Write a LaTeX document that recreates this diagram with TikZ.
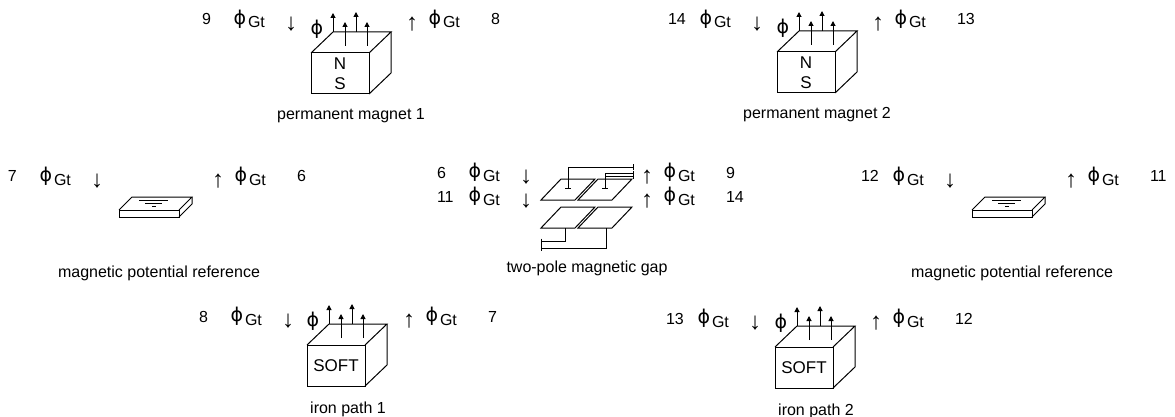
\documentclass[tikz,border=0pt]{standalone}
\usepackage{fontspec}
\setmainfont{Liberation Sans}
\newfontfamily\dv{DejaVu Sans}
\usetikzlibrary{arrows.meta}
\tikzset{
  every node/.style={inner sep=0pt,outer sep=0pt},
  num/.style={font=\fontsize{16}{16}\selectfont},
  gt/.style={font=\fontsize{16}{16}\selectfont},
  phi/.style={font=\dv\fontsize{19}{19}\selectfont},
  arr/.style={font=\fontsize{24}{24}\selectfont},
  captxt/.style={font=\fontsize{16}{16}\selectfont,anchor=base},
  boxtxt/.style={font=\fontsize{17}{17}\selectfont},
  flux/.style={-{Triangle[length=5pt,width=5pt]}},
  cube/.pic={
    \draw (0,0) rectangle (58,41);
    \draw (0,0) -- (22,-21) -- (80,-21) -- (58,0);
    \draw (80,-21) -- (80,20) -- (58,41);
    \draw[flux] (22,-21) -- (22,-40);
    \draw[flux] (34,-7) -- (34,-31);
    \draw[flux] (45,-21) -- (45,-41);
    \draw[flux] (56,-7) -- (56,-31);
    \node[phi] at (6,-24) {ϕ};
  },
  plate/.pic={
    \draw (0,0) rectangle (60,7);
    \draw (0,0) -- (13,-13) -- (73,-13) -- (60,0);
    \draw (73,-13) -- (73,-6) -- (60,7);
    \draw (20,-10) -- (49,-10);
    \draw (26,-7) -- (43,-7);
    \draw (33,-4) -- (37,-4);
  },
  gplate/.pic={
    \draw (0,0) -- (34,0) -- (54,-21) -- (20,-21) -- cycle;
  }
}
\newcommand\pinrow[5]{%
  \node[num,anchor=base west] (#1a) at ({#2-5},#3) {#4};
  \node[phi] (#1b) at ({#2+33},{#3-6}) {ϕ};
  \node[gt,anchor=base west] (#1c) at ({#2+41},{#3+3}) {Gt};
  \node[arr] (#1d) at ({#2+84},{#3-1}) {↓};
  \node[arr] (#1e) at ({#2+205},{#3-1}) {↑};
  \node[phi] (#1f) at ({#2+228},{#3-6}) {ϕ};
  \node[gt,anchor=base west] (#1g) at ({#2+236},{#3+3}) {Gt};
  \node[num,anchor=base west] (#1h) at ({#2+284},#3) {#5};
}
\begin{document}
\begin{tikzpicture}[x=1pt,y=-1pt,line width=1pt]
\useasboundingbox (0,0) rectangle (1175,417);
% permanent magnet 1
\pinrow{ma}{207}{25}{9}{8}
\pic (m1) at (311,53) {cube};
\node[boxtxt] (m1n) at (340,64) {N};
\node[boxtxt] (m1s) at (340,84) {S};
\node[captxt] (m1c) at (351,120) {permanent magnet 1};
% permanent magnet 2
\pinrow{mb}{673}{25}{14}{13}
\pic (m2) at (777,52) {cube};
\node[boxtxt] (m2n) at (806,63) {N};
\node[boxtxt] (m2s) at (806,83) {S};
\node[captxt] (m2c) at (817,119) {permanent magnet 2};
% magnetic potential reference (left)
\pinrow{ra}{13}{182}{7}{6}
\pic (r1) at (119,210) {plate};
\node[captxt] (r1c) at (159,277) {magnetic potential reference};
% magnetic potential reference (right)
\pinrow{rb}{866}{182}{12}{11}
\pic (r2) at (972,210) {plate};
\node[captxt] (r2c) at (1012,277) {magnetic potential reference};
% two-pole magnetic gap
\pinrow{ga}{442}{178}{6}{9}
\pinrow{gb}{442}{202}{11}{14}
\pic (gul) at (541,200) {gplate};
\pic (gur) at (578,200) {gplate};
\pic (gll) at (541,228) {gplate};
\pic (glr) at (578,228) {gplate};
\coordinate (t1) at (633,167);
\coordinate (t2) at (633,173);
\coordinate (t3) at (633,176.5);
\coordinate (b1) at (541,241);
\coordinate (b2) at (541,248);
\draw (565,188) -- (571,188);
\draw (568,188) |- (t1);
\draw (602,188) -- (608,188);
\draw (605,188) |- (t2);
\draw (605,176.5) -- (t3);
\draw (633,164) -- (633,170);
\draw (633,170.5) -- (633,179);
\draw (565,228) |- (b1);
\draw (606,228) |- (b2);
\draw (541,238.5) -- (541,243.5);
\draw (541,244) -- (541,250.5);
\node[captxt] (gc) at (587,272) {two-pole magnetic gap};
% iron path 1
\pinrow{ia}{204}{322}{8}{7}
\pic (i1) at (307,345) {cube};
\node[boxtxt] (i1t) at (336,366) {SOFT};
\node[captxt] (i1c) at (348,413) {iron path 1};
% iron path 2
\pinrow{ib}{671}{324}{13}{12}
\pic (i2) at (775,347) {cube};
\node[boxtxt] (i2t) at (804,368) {SOFT};
\node[captxt] (i2c) at (816,415) {iron path 2};
\end{tikzpicture}
\end{document}
